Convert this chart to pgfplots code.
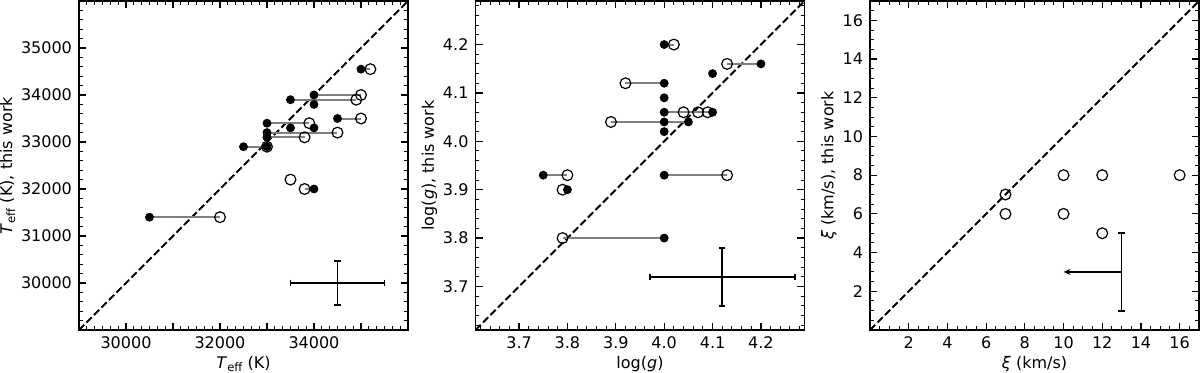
\documentclass[border=0pt]{standalone}
\usepackage{fontspec}
\setmainfont{DejaVu Sans}
\usepackage{pgfplots}
\pgfplotsset{compat=1.18}
\usetikzlibrary{arrows.meta}

\newcommand{\Teff}{\textit{T}\raisebox{-0.35ex}{\fontsize{5.8}{6}\selectfont eff}}

\pgfplotsset{
  panel/.style={
    width=164.5pt, height=164.5pt, scale only axis,
    anchor=south west,
    axis line style={line width=0.75pt},
    tick align=inside, xtick pos=both, ytick pos=both,
    xticklabel pos=bottom, yticklabel pos=left,
    major tick length=3.6pt, minor tick length=1.8pt,
    every tick/.style={black, line width=0.6pt},
    every minor tick/.style={black, line width=0.5pt},
    tick label style={font=\fontsize{8}{9.6}\selectfont},
    label style={font=\fontsize{8}{9.6}\selectfont},
    xlabel style={yshift=3.5pt},
    ylabel style={yshift=-4pt},
    /pgf/number format/assume math mode=true,
    scaled ticks=false,
  },
  diag/.style={black, line width=1pt, dash pattern=on 3.7pt off 1.6pt},
  lnk/.style={black!50, line width=1pt, unbounded coords=jump},
  opn/.style={only marks, mark=o, mark size=2.7pt, mark options={line width=0.6pt, black}},
  fil/.style={only marks, mark=*, mark size=2pt, mark options={black, fill=black}},
  bar/.style={black, line width=0.9pt, mark=none, unbounded coords=jump},
  hcap/.style={only marks, mark=|, mark size=1.6pt, mark options={line width=0.9pt, black}},
  vcap/.style={only marks, mark=-, mark size=1.6pt, mark options={line width=0.9pt, black}},
}

\begin{document}
\begin{tikzpicture}
\useasboundingbox (0,0) rectangle (600pt,186.5pt);

% ---- Teff ----
\begin{axis}[panel, at={(39.5pt,21.5pt)},
    xmin=29000, xmax=36000, ymin=29000, ymax=36000,
    xtick={29000,30000,...,36000},
    xticklabels={,30000,,32000,,34000,,},
    ytick={29000,30000,...,36000},
    yticklabels={,30000,31000,32000,33000,34000,35000,},
    minor xtick={29166.667,29333.333,...,35900},
    minor ytick={29200,29400,...,35900},
    xlabel={\Teff{} (K)},
    ylabel={\Teff{} (K), this work},
]
\addplot[diag] coordinates {(29000,29000)(36000,36000)};
\addplot[lnk] coordinates {
  (35000,34550)(35200,34550) (nan,nan)
  (34000,34000)(35000,34000) (nan,nan)
  (33500,33900)(34900,33900) (nan,nan)
  (34500,33500)(35000,33500) (nan,nan)
  (33000,33400)(33900,33400) (nan,nan)
  (33000,33200)(34500,33200) (nan,nan)
  (33000,33100)(33800,33100) (nan,nan)
  (32500,32900)(33000,32900) (nan,nan)
  (33800,32000)(34000,32000) (nan,nan)
  (30500,31400)(32000,31400)
};
\addplot[fil] coordinates {
  (35000,34550)(34000,34000)(33500,33900)(34000,33800)(34500,33500)
  (33000,33400)(33500,33300)(34000,33300)(33000,33200)(33000,33100)
  (32500,32900)(33000,32900)(34000,32000)(30500,31400)
};
\addplot[opn] coordinates {
  (35200,34550)(35000,34000)(34900,33900)(35000,33500)(33900,33400)
  (34500,33200)(33800,33100)(33000,32900)(33500,32200)(33800,32000)
  (32000,31400)
};
% typical uncertainty: 34500 +- 1000, 30000 +- 475
\addplot[bar] coordinates {(33500,30000)(35500,30000) (nan,nan) (34500,29525)(34500,30475)};
\addplot[hcap] coordinates {(33500,30000)(35500,30000)};
\addplot[vcap] coordinates {(34500,29525)(34500,30475)};
\end{axis}

% ---- log g ----
\begin{axis}[panel, at={(237.75pt,21.5pt)},
    xmin=3.61, xmax=4.29, ymin=3.61, ymax=4.29,
    xtick={3.7,3.8,3.9,4.0,4.1,4.2},
    ytick={3.7,3.8,3.9,4.0,4.1,4.2},
    minor xtick={3.62,3.64,...,4.285},
    minor ytick={3.62,3.64,...,4.285},
    /pgf/number format/.cd, fixed, precision=1, fixed zerofill,
    /pgfplots/.cd,
    xlabel={log(\textit{g})},
    ylabel={log(\textit{g}), this work},
]
\addplot[diag] coordinates {(3.61,3.61)(4.29,4.29)};
\addplot[lnk] coordinates {
  (4.0,4.2)(4.02,4.2) (nan,nan)
  (4.13,4.16)(4.2,4.16) (nan,nan)
  (3.92,4.12)(4.0,4.12) (nan,nan)
  (4.0,4.06)(4.1,4.06) (nan,nan)
  (3.89,4.04)(4.05,4.04) (nan,nan)
  (3.75,3.93)(3.8,3.93) (nan,nan)
  (4.0,3.93)(4.13,3.93) (nan,nan)
  (3.79,3.9)(3.8,3.9) (nan,nan)
  (3.79,3.8)(4.0,3.8)
};
\addplot[fil] coordinates {
  (4.0,4.2)(4.2,4.16)(4.1,4.14)(4.0,4.12)(4.0,4.09)(4.0,4.06)(4.1,4.06)
  (4.0,4.04)(4.05,4.04)(4.0,4.02)(3.75,3.93)(4.0,3.93)(3.8,3.9)(4.0,3.8)
};
\addplot[opn] coordinates {
  (4.02,4.2)(4.13,4.16)(3.92,4.12)(4.04,4.06)(4.07,4.06)(4.09,4.06)
  (3.89,4.04)(3.8,3.93)(4.13,3.93)(3.79,3.9)(3.79,3.8)
};
% typical uncertainty: 4.12 +- 0.15, 3.72 +- 0.06
\addplot[bar] coordinates {(3.97,3.72)(4.27,3.72) (nan,nan) (4.12,3.66)(4.12,3.78)};
\addplot[hcap] coordinates {(3.97,3.72)(4.27,3.72)};
\addplot[vcap] coordinates {(4.12,3.66)(4.12,3.78)};
\end{axis}

% ---- xi ----
\begin{axis}[panel, at={(435pt,21.5pt)},
    xmin=0, xmax=17, ymin=0, ymax=17,
    xtick={2,4,...,16}, ytick={2,4,...,16},
    minor xtick={0.5,1,...,16.9},
    minor ytick={0.5,1,...,16.9},
    xlabel={\textit{ξ} (km/s)},
    ylabel={\textit{ξ} (km/s), this work},
]
\addplot[diag] coordinates {(0,0)(17,17)};
\addplot[opn] coordinates {(7,7)(7,6)(10,8)(10,6)(12,8)(12,5)(16,8)};
% upper limit in x, 3 +- 2 in y
\addplot[bar] coordinates {(13,1)(13,5)};
\addplot[vcap] coordinates {(13,1)(13,5)};
\addplot[black, line width=0.9pt, -{Stealth[length=3.5pt,width=3pt]}]
  coordinates {(13,3)(10,3)};
\end{axis}
\end{tikzpicture}
\end{document}
